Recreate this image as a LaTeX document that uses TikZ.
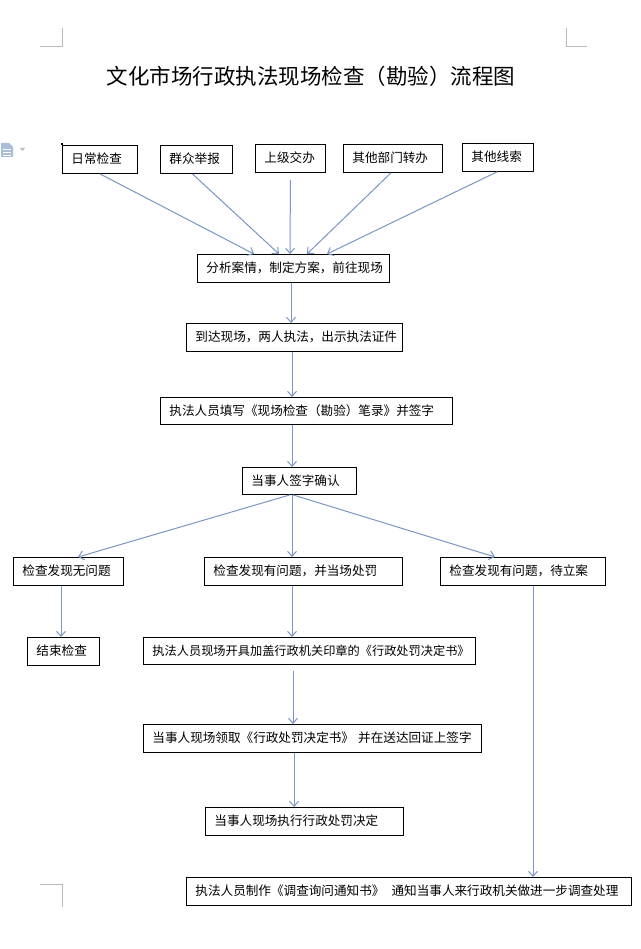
\documentclass[tikz,border=0pt]{standalone}
\usepackage{fontspec}
\newfontfamily\cjk{Noto Sans CJK SC}
\usetikzlibrary{arrows.meta,calc}
\definecolor{lineblue}{RGB}{122,150,196}
\definecolor{markgrey}{RGB}{185,185,185}
\definecolor{iconblue}{RGB}{170,190,215}
\begin{document}
\begin{tikzpicture}[x=1pt,y=-1pt,
  box/.style={draw=black, line width=0.9pt, anchor=north west, minimum height=28pt,
    inner xsep=9pt, inner ysep=0pt, align=left, text height=10.5pt, text depth=1.5pt,
    font=\cjk\fontsize{12.6}{14}\selectfont},
  arr/.style={draw=lineblue, line width=1pt, -{Straight Barb[length=5pt,width=9pt]}},
  cornermark/.style={draw=markgrey, line width=0.8pt}]
\useasboundingbox[fill=white] (0,0) rectangle (640,949);

% page corner marks
\draw[cornermark] (40,46) -- (62,46) -- (62,28);
\draw[cornermark] (587,46) -- (566,46) -- (566,28);
\draw[cornermark] (40,884) -- (62,884) -- (62,907);

% small document icon
\fill[iconblue] (1,143) -- (9,143) -- (13,147) -- (13,157) -- (1,157) -- cycle;
\draw[white, line width=0.8pt] (3,149) -- (11,149) (3,152) -- (11,152) (3,155) -- (11,155);
\fill[markgrey] (20,148) -- (25,148) -- (22.5,151) -- cycle;

% title
\node[font=\cjk\fontsize{21.5}{24}\selectfont] (title) at (311,76) {文化市场行政执法现场检查（勘验）流程图};

% source boxes
\node[box, text width=57pt] (s1) at (62,145) {日常检查};
\fill (61,143) rectangle (63,145);
\node[box, text width=54pt] (s2) at (160,145) {群众举报};
\node[box, text width=52pt] (s3) at (255,144) {上级交办};
\node[box, text width=81pt] (s4) at (343,144) {其他部门转办};
\node[box, text width=53pt] (s5) at (462,143) {其他线索};

% main chain
\node[box, text width=174pt] (an) at (197,254) {分析案情，制定方案，前往现场};
\node[box, text width=198pt] (dd) at (186,323) {到达现场，两人执法，出示执法证件};
\node[box, text width=274pt, minimum height=27pt] (tx) at (160,397) {执法人员填写《现场检查（勘验）笔录》并签字};
\node[box, text width=96pt, minimum height=27pt] (qr) at (242,467) {当事人签字确认};

\node[box, text width=92pt] (b1) at (13,557) {检查发现无问题};
\node[box, text width=180pt] (b2) at (204,557) {检查发现有问题，并当场处罚};
\node[box, text width=147pt] (b3) at (440,557) {检查发现有问题，待立案};

\node[box, text width=54pt] (e1) at (27,637) {结束检查};
\node[box, text width=314pt, minimum height=27pt, font=\cjk\fontsize{12.2}{14}\selectfont] (p1) at (143,637) {执法人员现场开具加盖行政机关印章的《行政处罚决定书》};
\node[box, text width=320pt] (p2) at (143,724) {当事人现场领取《行政处罚决定书》 并在送达回证上签字};
\node[box, text width=180pt] (p3) at (205,807) {当事人现场执行行政处罚决定};
\node[box, text width=427pt] (n1) at (186,877) {执法人员制作《调查询问通知书》\hspace{3pt} 通知当事人来行政机关做进一步调查处理};

% helper x positions
\coordinate (x61) at (61,0);
\coordinate (x291) at (291,0);
\coordinate (x292) at (292,0);
\coordinate (x293) at (293,0);
\coordinate (x294) at (294,0);
\coordinate (x533) at (533,0);

% fan-in connectors
\draw[arr] (s1.south) -- ($(an.north west)+(57,0)$);
\draw[arr] ([xshift=-4pt]s2.south) -- ($(an.north west)+(82,0)$);
\draw[arr] ($(s3.south)+(0,7)$) -- ($(an.north west)+(93,0)$);
\draw[arr] ([xshift=-2pt]s4.south) -- ($(an.north west)+(110,0)$);
\draw[arr] ([xshift=-1pt]s5.south) -- ($(an.north west)+(130,0)$);

% vertical chain
\draw[arr] (an.south -| x291) -- (dd.north -| x291);
\draw[arr] (dd.south -| x292) -- (tx.north -| x292);
\draw[arr] (tx.south -| x292) -- (qr.north -| x292);

% branches
\draw[arr] ($(qr.south west)+(48,0)$) -- ($(b1.north west)+(65,0)$);
\draw[arr] (qr.south -| x292) -- (b2.north -| x292);
\draw[arr] ($(qr.south west)+(51,0)$) -- ($(b3.north west)+(55,0)$);

\draw[arr] (b1.south -| x61) -- (e1.north -| x61);
\draw[arr] (b2.south -| x292) -- (p1.north -| x292);
\draw[arr] ($(p1.south -| x293)+(0,6)$) -- (p2.north -| x293);
\draw[arr] (p2.south -| x294) -- (p3.north -| x294);
\draw[arr] (b3.south -| x533) -- (n1.north -| x533);
\end{tikzpicture}
\end{document}
